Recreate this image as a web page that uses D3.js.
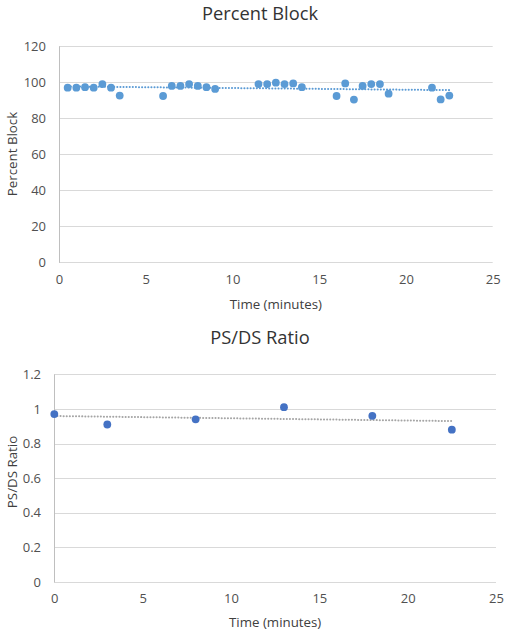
<!DOCTYPE html>
<html><head><meta charset="utf-8">
<script src="https://cdn.jsdelivr.net/npm/d3@7"></script>
<style>
html,body{margin:0;padding:0;background:#fff;}
svg{display:block;font-family:"Open Sans","Noto Sans",sans-serif;}
</style></head>
<body>
<svg id="c" width="505" height="636"></svg>
<script>
// ---- Data ----
const blockTimes = [0.5,1,1.5,2,2.5,3,3.5, 6,6.5,7,7.5,8,8.5,9, 11.5,12,12.5,13,13.5,14, 16,16.5,17,17.5,18,18.5,19, 21.5,22,22.5];
const blockValues = [97,97,97.3,97,99,97,92.6, 92.4,98,98,99,98,97.3,96.3, 99,99,99.8,99,99.4,97.3, 92.4,99.4,90.4,98,99,99,93.7, 97,90.5,92.6];
const ratioTimes = [0,3,8,13,18,22.5];
const ratioValues = [0.97,0.91,0.94,1.01,0.96,0.88];
const xTicks = [0,5,10,15,20,25];
const blockTicks = [0,20,40,60,80,100,120];
const ratioTicks = [0,0.2,0.4,0.6,0.8,1,1.2];

const svg = d3.select("#c");

function regression(xs, ys){
  const n = xs.length, mx = d3.mean(xs), my = d3.mean(ys);
  let sxy=0, sxx=0;
  for(let i=0;i<n;i++){ sxy += (xs[i]-mx)*(ys[i]-my); sxx += (xs[i]-mx)**2; }
  const b = sxy/sxx; return {a: my - b*mx, b};
}

function drawChart(cfg){
  const g = svg.append("g");
  const x = d3.scaleLinear().domain([0,25]).range([cfg.left, cfg.right]);
  const y = d3.scaleLinear().domain(cfg.yDomain).range([cfg.bottom, cfg.top]);

  // gridlines
  g.append("g").selectAll("line").data(cfg.yTicks).join("line")
    .attr("x1", cfg.left).attr("x2", cfg.right)
    .attr("y1", d=>Math.round(y(d))+0.5).attr("y2", d=>Math.round(y(d))+0.5)
    .attr("stroke", "#d9d9d9").attr("stroke-width", 1);
  // vertical axis line
  g.append("line").attr("x1", Math.round(cfg.left)+0.5).attr("x2", Math.round(cfg.left)+0.5)
    .attr("y1", cfg.top).attr("y2", cfg.bottom+0.5).attr("stroke","#bfbfbf");

  // y axis labels
  const yAxis = d3.axisLeft(y).tickValues(cfg.yTicks).tickSize(0).tickPadding(0).tickFormat(d3.format("~g"));
  const ya = g.append("g").attr("transform", `translate(${cfg.yLabelX},0)`).call(yAxis);
  ya.select(".domain").remove();
  ya.selectAll("text").attr("font-size", 13).attr("fill","#505050").attr("font-family","Open Sans");

  // x axis labels
  const xAxis = d3.axisBottom(x).tickValues(xTicks).tickSize(0).tickPadding(0);
  const xa = g.append("g").attr("transform", `translate(0,${cfg.xLabelY})`).call(xAxis);
  xa.select(".domain").remove();
  xa.selectAll("text").attr("font-size", 13).attr("fill","#505050").attr("font-family","Open Sans");

  // trendline
  const r = regression(cfg.xs, cfg.ys);
  const x0 = d3.min(cfg.xs), x1 = d3.max(cfg.xs);
  g.append("line")
    .attr("x1", x(x0)).attr("x2", x(x1))
    .attr("y1", y(r.a + r.b*x0)).attr("y2", y(r.a + r.b*x1))
    .attr("stroke", cfg.trendColor).attr("stroke-width", 2)
    .attr("stroke-dasharray", "0.1 3").attr("stroke-linecap","round");

  // points
  g.append("g").selectAll("circle").data(cfg.xs.map((v,i)=>[v,cfg.ys[i]])).join("circle")
    .attr("cx", d=>x(d[0])).attr("cy", d=>y(d[1])).attr("r", 3.9)
    .attr("fill", cfg.color);

  // titles
  g.append("text").attr("x", cfg.titleX).attr("y", cfg.titleY).attr("text-anchor","middle")
    .attr("font-size", 18.3).attr("fill","#333").text(cfg.title);
  g.append("text").attr("x", (cfg.left+cfg.right)/2).attr("y", cfg.xTitleY).attr("text-anchor","middle")
    .attr("font-size", 13.3).attr("fill","#404040").text("Time (minutes)");
  g.append("text").attr("transform", `translate(${cfg.yTitleX},${cfg.yTitleCY}) rotate(-90)`)
    .attr("text-anchor","middle").attr("font-size", 13.3).attr("fill","#404040").text(cfg.yTitle);
}

drawChart({
  xs: blockTimes, ys: blockValues, yDomain:[0,120], yTicks: blockTicks,
  left: 59, right: 492.7, top: 46.3, bottom: 262.3,
  yLabelX: 46, xLabelY: 275, color: "#5b9bd5", trendColor: "#5b9bd5",
  title: "Percent Block", titleX: 260, titleY: 20, xTitleY: 309,
  yTitle: "Percent Block", yTitleX: 17, yTitleCY: 154
});
drawChart({
  xs: ratioTimes, ys: ratioValues, yDomain:[0,1.2], yTicks: ratioTicks,
  left: 54.3, right: 496, top: 374.3, bottom: 582,
  yLabelX: 41, xLabelY: 594, color: "#4472c4", trendColor: "#a5a5a5",
  title: "PS/DS Ratio", titleX: 260, titleY: 344, xTitleY: 627,
  yTitle: "PS/DS Ratio", yTitleX: 17, yTitleCY: 472
});
</script>
</body></html>
